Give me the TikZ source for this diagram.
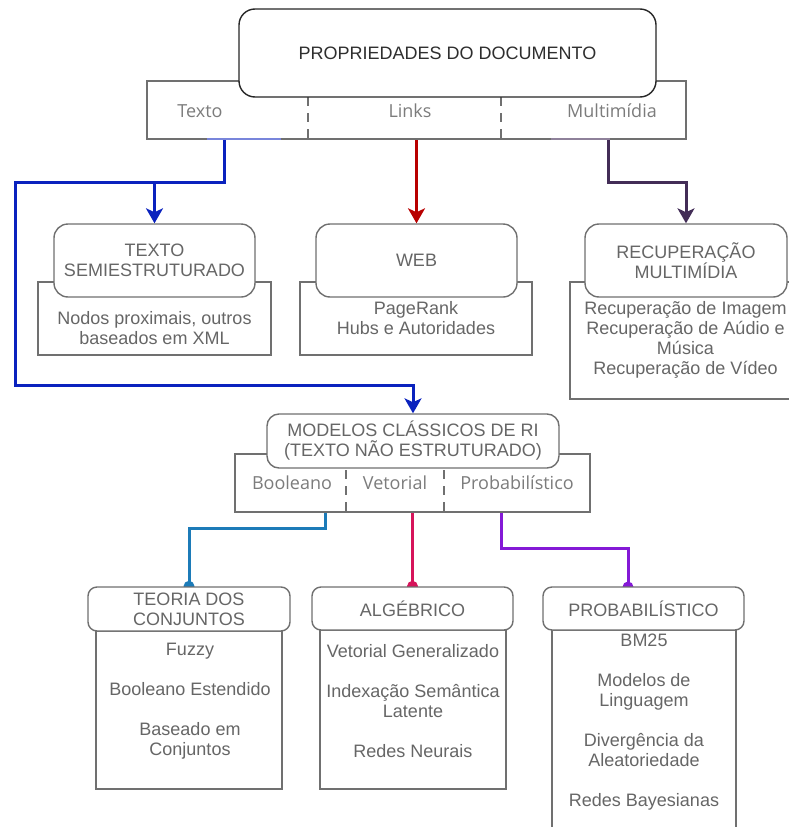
\documentclass[tikz,border=0pt]{standalone}
\usepackage{fontspec}
\setmainfont{Liberation Sans}
\newfontfamily\tabfont{Open Sans}
\usetikzlibrary{arrows.meta,backgrounds}

\definecolor{boxline}{HTML}{707070}
\definecolor{boxtext}{HTML}{666666}
\definecolor{titletext}{HTML}{2E2E2E}
\definecolor{tabtext}{HTML}{7C7C7C}
\definecolor{cBlue}{HTML}{0A22BE}
\definecolor{cRed}{HTML}{B80000}
\definecolor{cPlum}{HTML}{432D57}
\definecolor{cSteel}{HTML}{1C7BB8}
\definecolor{cCrimson}{HTML}{D6145A}
\definecolor{cViolet}{HTML}{8419D6}

\tikzset{
  panel/.style={draw=boxline, line width=1.4pt, fill=white, inner sep=0pt},
  card/.style={panel, rounded corners=#1, align=center, text=boxtext,
    font=\fontsize{18}{20}\selectfont},
  card/.default=12pt,
  body/.style={text=boxtext, align=center, inner sep=0pt,
    font=\fontsize{18}{20}\selectfont},
  tab/.style={text=tabtext, inner sep=0pt, font=\tabfont\fontsize{18}{20}\selectfont},
  divider/.style={draw=boxline, line width=1.6pt, dash pattern=on 9pt off 7pt},
  wire/.style={line width=3pt},
  pointer/.style={-{Stealth[length=15pt,width=17pt,inset=4pt]}},
}

\begin{document}
\begin{tikzpicture}[x=1pt,y=-1pt]
\useasboundingbox (0,0) rectangle (789,827);
\clip (0,0) rectangle (789,827);

% ---- document properties: tab bar under the title card
\node[panel, minimum width=539pt, minimum height=58pt] (bar) at (416.5,110) {};
\draw[divider] (308,81) -- (308,139);
\draw[divider] (501,81) -- (501,139);
\draw[cBlue!55, line width=1.4pt] (207,139) -- (281,139);
\draw[cPlum!60, line width=1.4pt] (551,139) -- (610,139);
\node[card=16pt, draw=black!85, text=titletext, minimum width=417pt,
  minimum height=88pt] (doc) at (447.5,53) {PROPRIEDADES DO DOCUMENTO};
\node[tab] (tTexto) at (200,111) {Texto};
\node[tab] (tLinks) at (410,111) {Links};
\node[tab] (tMulti) at (612,111) {Multimídia};

% ---- second row
\node[panel, minimum width=233pt, minimum height=73pt] (semiBody) at (154.5,318.5) {};
\node[card=14pt, minimum width=201pt, minimum height=73pt] (semiTitle) at (154.5,260.5)
  {TEXTO\\SEMIESTRUTURADO};
\node[body] (semiText) at (154.5,328.5) {Nodos proximais, outros\\baseados em XML};

\node[panel, minimum width=232pt, minimum height=73pt] (webBody) at (416,318.5) {};
\node[card=14pt, minimum width=201pt, minimum height=73pt] (webTitle) at (416.5,260.5) {WEB};
\node[body] (webText) at (416,318.5) {PageRank\\Hubs e Autoridades};

\node[panel, minimum width=231pt, minimum height=117pt] (recBody) at (685.5,340.5) {};
\node[card=14pt, minimum width=202pt, minimum height=73pt] (recTitle) at (686,260.5)
  {RECUPERAÇÃO\\MULTIMÍDIA};
\node[body] (recText) at (685.5,340) {Recuperação de Imagem\\Recuperação de Aúdio e\\Música\\Recuperação de Vídeo};

% ---- classic models
\node[panel, minimum width=355pt, minimum height=58pt] (modBar) at (412.5,483) {};
\draw[divider] (346,454) -- (346,512);
\draw[divider] (444,454) -- (444,512);
\node[card=12pt, minimum width=292pt, minimum height=54pt] (modTitle) at (413,441)
  {MODELOS CLÁSSICOS DE RI\\(TEXTO NÃO ESTRUTURADO)};
\node[tab] (tBool) at (292,483) {Booleano};
\node[tab] (tVet) at (395,483) {Vetorial};
\node[tab] (tProb) at (517,483) {Probabilístico};

% ---- model families
\node[panel, minimum width=186pt, minimum height=158pt] (teoBody) at (189,710) {};
\node[card=9pt, minimum width=202pt, minimum height=44pt] (teoTitle) at (189,609)
  {TEORIA DOS\\CONJUNTOS};
\node[body] (teoText) at (190,701) {Fuzzy\\[20pt]Booleano Estendido\\[20pt]Baseado em\\Conjuntos};

\node[panel, minimum width=186pt, minimum height=159pt] (algBody) at (413,709.5) {};
\node[card=9pt, minimum width=201pt, minimum height=43pt] (algTitle) at (412.5,608.5) {ALGÉBRICO};
\node[body] (algText) at (413,701.5) {Vetorial Generalizado\\[20pt]Indexação Semântica\\Latente\\[20pt]Redes Neurais};

\node[panel, minimum width=184pt, minimum height=210pt] (probBody) at (644,735) {};
\node[card=9pt, minimum width=201pt, minimum height=43pt] (probTitle) at (643.5,608.5) {PROBABILÍSTICO};
\node[body] (probText) at (644,722.5) {BM25\\[20pt]Modelos de\\Linguagem\\[20pt]Divergência da\\Aleatoriedade\\[20pt]Redes Bayesianas};

% ---- ports on the tab bars
\coordinate (pTexto) at (224,139);
\coordinate (pMulti) at (608,139);
\coordinate (pBool) at (325,512);
\coordinate (pProb) at (501,512);
\coordinate (bendL) at (15,385);
\coordinate (probIn) at (628,587);

% ---- connectors, kept underneath the boxes
\begin{pgfonlayer}{background}
\draw[wire, cBlue, pointer] (pTexto) -- ++(0,43) coordinate (jTexto) -| (semiTitle.north);
\draw[wire, cBlue, pointer] (jTexto) -| (bendL) -| (modTitle.north);
\draw[wire, cRed, pointer] (webTitle.north |- bar.south) -- (webTitle.north);
\draw[wire, cPlum, pointer] (pMulti) -- ++(0,43) -| (recTitle.north);

\draw[wire, cSteel] (pBool) -- ++(0,16) -| (teoTitle.north);
\fill[cSteel] (teoTitle.north) circle (5.5pt);
\draw[wire, cCrimson] (algTitle.north |- modBar.south) -- (algTitle.north);
\fill[cCrimson] (algTitle.north) circle (5.5pt);
\draw[wire, cViolet] (pProb) -- ++(0,36) -| (probIn);
\fill[cViolet] (probIn) circle (5.5pt);
\end{pgfonlayer}
\end{tikzpicture}
\end{document}
